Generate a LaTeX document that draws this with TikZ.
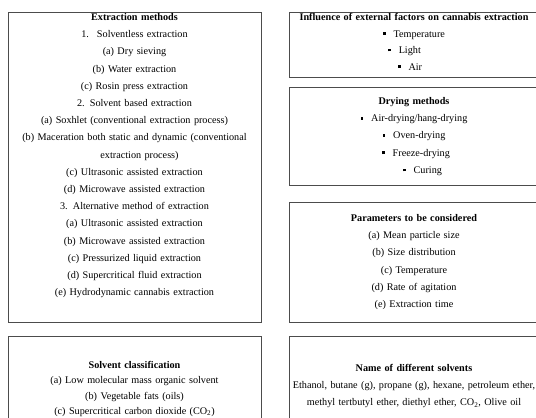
\documentclass[tikz,border=0pt]{standalone}
\usepackage{fontspec}
\setmainfont{Liberation Serif}
\usetikzlibrary{positioning}

\newcommand{\sqbul}{\rule[0.2em]{2.6pt}{2.6pt}\hspace{8pt}}

\begin{document}
\begin{tikzpicture}[
    panel/.style={draw=black!70, line width=1pt, inner sep=0pt},
    txt/.style={
        anchor=base, text width=258pt, align=center, inner sep=0pt,
        font=\fontsize{10.2pt}{17.2pt}\selectfont,
    },
]
\useasboundingbox (0,0) rectangle (536pt,-418pt);

\def\colL{134.5}
\def\colR{414}

% boxes
\node[panel, minimum width=253pt, minimum height=310pt] (extrbox) at (\colL pt,-167pt) {};
\node[panel, minimum width=253pt, minimum height=104pt] (classbox) at (\colL pt,-388pt) {};
\node[panel, minimum width=250pt, minimum height=65pt] (inflbox) at (\colR pt,-44.5pt) {};
\node[panel, minimum width=250pt, minimum height=98pt] (drybox) at (\colR pt,-136pt) {};
\node[panel, minimum width=250pt, minimum height=120pt] (parbox) at (\colR pt,-262pt) {};
\node[panel, minimum width=250pt, minimum height=104pt] (namebox) at (\colR pt,-388pt) {};

% texts
\node[txt] (extr) at (\colL pt,-20.5pt) {
    \textbf{Extraction methods}\\
    1.\hspace{8pt}Solventless extraction\\
    (a) Dry sieving\\
    (b) Water extraction\\
    (c) Rosin press extraction\\
    2. Solvent based extraction\\
    (a) Soxhlet (conventional extraction process)\\
    (b) Maceration both static and dynamic (conventional\\
    \hspace*{10pt}extraction process)\\
    (c) Ultrasonic assisted extraction\\
    (d) Microwave assisted extraction\\
    3. Alternative method of extraction\\
    (a) Ultrasonic assisted extraction\\
    (b) Microwave assisted extraction\\
    (c) Pressurized liquid extraction\\
    (d) Supercritical fluid extraction\\
    (e) Hydrodynamic cannabis extraction
};

\node[txt, font=\fontsize{10.2pt}{16.5pt}\selectfont] (infl) at (\colR pt,-20.5pt) {
    \textbf{Influence of external factors on cannabis extraction}\\
    \sqbul Temperature\\
    \hspace*{-19pt}\sqbul Light\\
    \hspace*{-8pt}\sqbul Air
};

\node[txt] (dry) at (\colR pt,-104.5pt) {
    \textbf{Drying methods}\\
    \sqbul Air-drying/hang-drying\\
    \sqbul Oven-drying\\
    \hspace*{4pt}\sqbul Freeze-drying\\
    \hspace*{17pt}\sqbul Curing
};

\node[txt] (par) at (\colR pt,-221.5pt) {
    \textbf{Parameters to be considered}\\
    (a) Mean particle size\\
    (b) Size distribution\\
    (c) Temperature\\
    (d) Rate of agitation\\
    (e) Extraction time
};

\node[txt, font=\fontsize{10.2pt}{15.3pt}\selectfont] (class) at (\colL pt,-368.5pt) {
    \textbf{Solvent classification}\\
    (a) Low molecular mass organic solvent\\
    (b) Vegetable fats (oils)\\
    (c) Supercritical carbon dioxide (CO\textsubscript{2})
};

\node[txt] (names) at (\colR pt,-371.5pt) {
    \textbf{Name of different solvents}\\
    Ethanol, butane (g), propane (g), hexane, petroleum ether,\\
    methyl tertbutyl ether, diethyl ether, CO\textsubscript{2}, Olive oil
};

\end{tikzpicture}
\end{document}
